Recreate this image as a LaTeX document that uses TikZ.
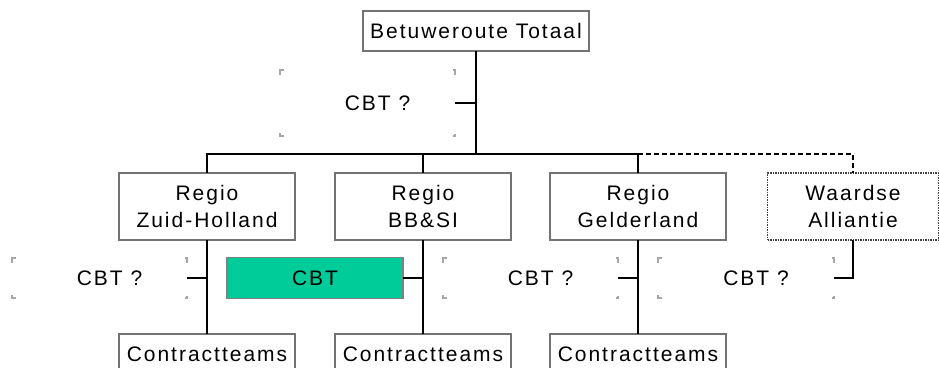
\documentclass[tikz,border=0pt]{standalone}
\usepackage{fontspec}
\setmainfont{Liberation Sans}[LetterSpace=9.5]
\begin{document}
\begin{tikzpicture}[x=1pt,y=-1pt,
  every node/.style={inner sep=0pt,outer sep=0pt,font=\fontsize{21}{27}\selectfont,align=center},
  box/.style={draw=gray!90!black,line width=1.3pt,fill=white},
  wbox/.style={draw=black!75,line width=1.1pt,dash pattern=on 1.5pt off 1pt,fill=white},
  greenbox/.style={draw=gray,line width=1.3pt,fill=cbtgreen},
  qbox/.style={},
  conn/.style={line width=1.5pt,black},
  dconn/.style={line width=1.5pt,black,dash pattern=on 5pt off 3pt},
  cmark/.style={line width=1.6pt,gray!70}
]
\definecolor{cbtgreen}{HTML}{00CC99}
\useasboundingbox (0,0) rectangle (939,367);
\clip (0,0) rectangle (939,367);

% nodes
\node[box,minimum width=226pt,minimum height=40pt] (top) at (476,31) {Betuweroute Totaal};
\node[qbox,minimum width=175pt,minimum height=66pt] (q0) at (367.5,103) {\hspace*{20pt}CBT ?};

\node[box,minimum width=176pt,minimum height=67pt] (zh) at (207,206.5) {Regio\\Zuid-Holland};
\node[box,minimum width=176pt,minimum height=67pt] (bb) at (423,206.5) {Regio\\BB\&SI};
\node[box,minimum width=176pt,minimum height=67pt] (ge) at (638,206.5) {Regio\\Gelderland};
\node[wbox,minimum width=171pt,minimum height=67pt] (wa) at (853,206.5) {Waardse\\Alliantie};

\node[qbox,minimum width=175pt,minimum height=40pt] (q1) at (99.5,278) {\hspace*{20pt}CBT ?};
\node[greenbox,minimum width=176pt,minimum height=41pt] (cg) at (315,278) {CBT};
\node[qbox,minimum width=175pt,minimum height=40pt] (q3) at (530.5,278) {\hspace*{20pt}CBT ?};
\node[qbox,minimum width=176pt,minimum height=40pt] (q4) at (746,278) {\hspace*{20pt}CBT ?};

\node[box,minimum width=176pt,minimum height=40pt] (c1) at (207,354) {Contractteams};
\node[box,minimum width=176pt,minimum height=40pt] (c2) at (423,354) {Contractteams};
\node[box,minimum width=176pt,minimum height=40pt] (c3) at (638,354) {Contractteams};

% corner marks of the open CBT ? boxes
\foreach \q in {q0,q1,q3,q4}{
  \draw[cmark] ([xshift=4pt]\q.north west) -- (\q.north west) -- ([yshift=-5pt]\q.north west);
  \draw[cmark] ([yshift=3pt]\q.south west) -- (\q.south west) -- ([xshift=4pt]\q.south west);
  \draw[cmark] ([xshift=-2pt]\q.north east) -- (\q.north east) -- ([yshift=-5pt]\q.north east);
  \draw[cmark] ([xshift=-2pt]\q.south east) -- (\q.south east) -- ([yshift=2pt]\q.south east);
}

% connectors
\coordinate (bus) at (477,154);
\draw[conn] (top.south) -- (top.south |- bus);
\draw[conn] (q0.east) -- (q0.east -| top.south);
\draw[conn] (zh.north) -- (zh.north |- bus) -- (ge.north |- bus) -- (ge.north);
\draw[conn] (bb.north) -- (bb.north |- bus);
\draw[dconn] (ge.north |- bus) -- (wa.north |- bus) -- (wa.north);

\draw[conn] (zh.south) -- (c1.north);
\draw[conn] (q1.east) -- (q1.east -| zh.south);
\draw[conn] (bb.south) -- (c2.north);
\draw[conn] (cg.east) -- (cg.east -| bb.south);
\draw[conn] (ge.south) -- (c3.north);
\draw[conn] (q3.east) -- (q3.east -| ge.south);
\draw[conn] (wa.south) -- (wa.south |- q4.east) -- (q4.east);
\end{tikzpicture}
\end{document}
